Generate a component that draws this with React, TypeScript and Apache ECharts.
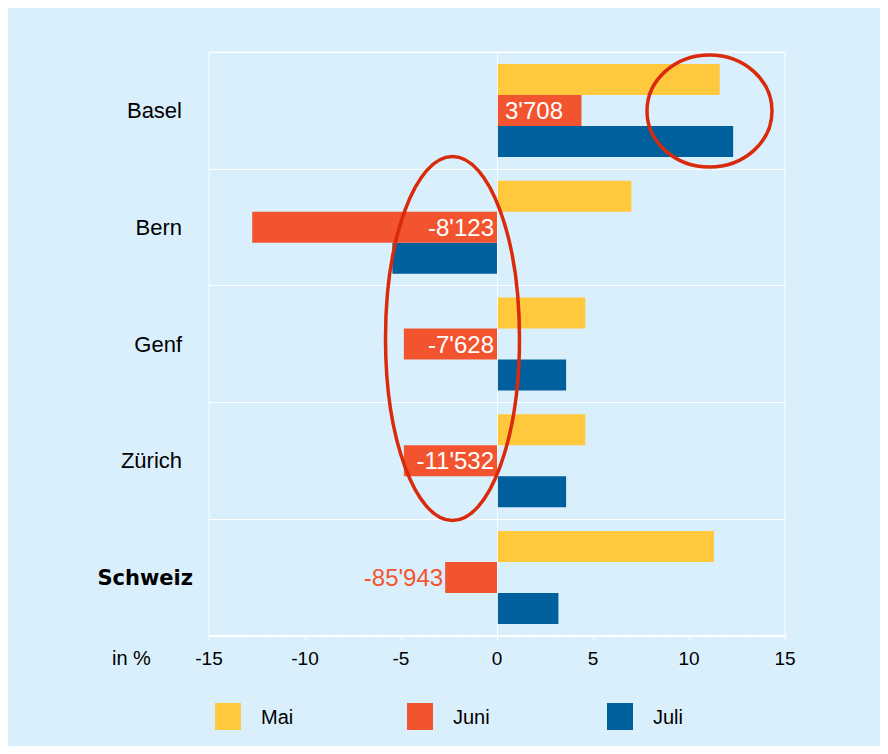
import { useEffect, useRef } from 'react';
import * as echarts from 'echarts';

const categories = ['Basel', 'Bern', 'Genf', 'Zürich', 'Schweiz'];
const seriesNames = ['Mai', 'Juni', 'Juli'];
const maiValues = [11.6, 7.0, 4.6, 4.6, 11.3];
const juniValues = [4.4, -12.75, -4.85, -4.85, -2.7];
const juliValues = [12.3, -5.45, 3.6, 3.6, 3.2];
const juniLabels = ["3'708", "-8'123", "-7'628", "-11'532", "-85'943"];
const xMin = -15;
const xMax = 15;
const xInterval = 5;

const FONT = '"Liberation Sans", Arial, Helvetica, sans-serif';
const COLORS = ['#ffc83d', '#f35430', '#00609e'];
const BG = '#daeffc';

export default function App() {
  const ref = useRef<HTMLDivElement>(null);
  useEffect(() => {
    if (!ref.current) return;
    const chart = echarts.init(ref.current, undefined, { renderer: 'svg' });

    const juniData = juniValues.map((v, i) => {
      const isTotal = categories[i] === 'Schweiz';
      return {
        value: v,
        label: isTotal
          ? { position: 'left', distance: 2, color: COLORS[1] }
          : { position: v >= 0 ? 'insideLeft' : 'insideRight', distance: v >= 0 ? 8 : 3, color: '#fff' },
      };
    });

    chart.setOption({
      animation: false,
      backgroundColor: BG,
      textStyle: { fontFamily: FONT },
      grid: {
        left: 201,
        top: 44,
        width: 576,
        height: 584,
        show: true,
        backgroundColor: 'transparent',
        borderColor: '#ffffff',
        borderWidth: 1,
      },
      xAxis: {
        type: 'value',
        min: xMin,
        max: xMax,
        interval: xInterval,
        axisLine: { show: true, onZero: false, lineStyle: { color: '#ffffff', width: 1.5 } },
        axisTick: { show: true, length: 5, lineStyle: { color: '#ffffff', width: 1 } },
        minorTick: { show: true, splitNumber: 5, length: 2, lineStyle: { color: 'rgba(255,255,255,0.7)' } },
        splitLine: { show: false },
        axisLabel: { color: '#000', fontSize: 19, fontFamily: FONT, margin: 13 },
      },
      yAxis: {
        type: 'category',
        data: categories,
        inverse: true,
        axisLine: { show: false, onZero: false },
        axisTick: { show: false },
        splitLine: { show: true, lineStyle: { color: '#ffffff', width: 1 } },
        axisLabel: {
          margin: 16,
          formatter: (v: string) => (v === 'Schweiz' ? `{b|${v}}` : `{n|${v}}`),
          rich: {
            n: { fontSize: 22, color: '#000', fontFamily: FONT, padding: [0, 11, 0, 0] },
            b: { fontSize: 21, color: '#000', fontWeight: 'bold', fontFamily: '"DejaVu Sans", sans-serif' },
          },
        },
      },
      legend: seriesNames.map((name, i) => ({
        data: [name],
        left: [207, 399, 599][i],
        top: 695,
        padding: 0,
        itemWidth: 26,
        itemHeight: 27,
        icon: 'rect',
        selectedMode: false,
        textStyle: { fontSize: 20, color: '#000', fontFamily: FONT, padding: [0, 0, 0, 15] },
      })),
      graphic: [
        {
          type: 'text',
          left: 104,
          top: 640,
          style: { text: 'in %', font: `20px ${FONT}`, fill: '#000' },
        },
        {
          type: 'ellipse',
          shape: { cx: 701.5, cy: 103, rx: 62.5, ry: 56 },
          style: { fill: 'none', stroke: '#d92a0c', lineWidth: 3.5 },
          z: 100,
        },
        {
          type: 'ellipse',
          shape: { cx: 444.5, cy: 330.5, rx: 67, ry: 182 },
          style: { fill: 'none', stroke: '#d92a0c', lineWidth: 3.5 },
          z: 100,
        },
      ],
      series: [
        {
          name: 'Mai',
          type: 'bar',
          data: maiValues,
          barWidth: 31,
          barGap: '0%',
          itemStyle: { color: COLORS[0] },
        },
        {
          name: 'Juni',
          type: 'bar',
          data: juniData,
          barWidth: 31,
          barGap: '0%',
          itemStyle: { color: COLORS[1] },
          label: {
            show: true,
            fontSize: 24,
            fontFamily: FONT,
            formatter: (p: any) => juniLabels[p.dataIndex],
          },
          z: 3,
        },
        {
          name: 'Juli',
          type: 'bar',
          data: juliValues,
          barWidth: 31,
          barGap: '0%',
          itemStyle: { color: COLORS[2] },
          markLine: {
            silent: true,
            symbol: 'none',
            label: { show: false },
            lineStyle: { color: 'rgba(255,255,255,0.85)', width: 1, type: 'solid' },
            data: [{ xAxis: 0 }],
          },
        },
      ],
    });
    return () => chart.dispose();
  }, []);
  return <div ref={ref} style={{ width: 872, height: 738 }} />;
}
